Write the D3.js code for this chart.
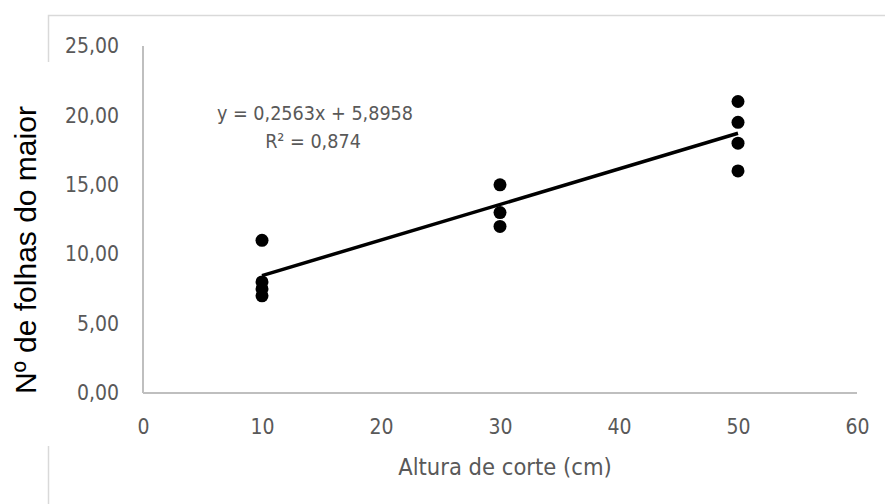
<!DOCTYPE html>
<html>
<head>
<meta charset="utf-8">
<script src="https://cdn.jsdelivr.net/npm/d3@7"></script>
<style>
  body { margin: 0; background: #fff; }
  svg { display: block; }
</style>
</head>
<body>
<svg id="chart" width="885" height="504"></svg>
<script>
// data
var alturas = [10, 10, 10, 10, 30, 30, 30, 50, 50, 50, 50];
var folhas  = [11, 8, 7.5, 7, 15, 13, 12, 21, 19.5, 18, 16];
var slope = 0.2563, intercept = 5.8958, r2 = "0,874";
var xTicks = [0, 10, 20, 30, 40, 50, 60];
var yTicks = [0, 5, 10, 15, 20, 25];

var tickFont = "'Liberation Sans Narrow', 'DejaVu Sans Condensed', sans-serif";
var svg = d3.select("#chart");

// chart frame (partly hidden behind the y title)
svg.append("rect")
    .attr("x", 48.5).attr("y", 15.5)
    .attr("width", 900).attr("height", 600)
    .attr("fill", "none")
    .attr("stroke", "#d9d9d9")
    .attr("stroke-width", 1.5);

var x = d3.scaleLinear().domain([0, 60]).range([143, 857]);
var y = d3.scaleLinear().domain([0, 25]).range([393, 46]);

// axes
var xAxis = svg.append("g")
    .attr("transform", "translate(0," + y(0) + ")")
    .call(d3.axisBottom(x).tickValues(xTicks).tickSize(0).tickPadding(26));
var yAxis = svg.append("g")
    .attr("transform", "translate(" + x(0) + ",0)")
    .call(d3.axisLeft(y).tickValues(yTicks).tickSize(0).tickPadding(24)
        .tickFormat(function(d){ return d3.format(".2f")(d).replace(".", ","); }));

[xAxis, yAxis].forEach(function(g){
    g.select(".domain").attr("stroke", "#bfbfbf").attr("stroke-width", 2);
    g.selectAll("text")
        .attr("font-family", tickFont)
        .attr("font-size", "21px")
        .attr("fill", "#595959");
});
xAxis.select(".domain").attr("d", "M" + x(0) + ",0H" + x(60));
yAxis.select(".domain").attr("d", "M0," + y(0) + "V" + y(25));

// trend line
svg.append("line")
    .attr("x1", x(10)).attr("y1", y(slope * 10 + intercept))
    .attr("x2", x(50)).attr("y2", y(slope * 50 + intercept))
    .attr("stroke", "#000")
    .attr("stroke-width", 3.5);

// points
svg.selectAll("circle.pt")
    .data(alturas.map(function(a, i){ return {a: a, f: folhas[i]}; }))
    .enter()
    .append("circle")
    .attr("class", "pt")
    .attr("cx", function(d){ return x(d.a); })
    .attr("cy", function(d){ return y(d.f); })
    .attr("r", 6.5)
    .attr("fill", "#000");

// equation label
var eq = svg.append("text")
    .attr("font-family", tickFont)
    .attr("font-size", "19.6px")
    .attr("fill", "#595959")
    .attr("text-anchor", "middle");
eq.append("tspan").attr("x", 315).attr("y", 120)
    .text("y = " + String(slope).replace(".", ",") + "x + " + String(intercept).replace(".", ","));
eq.append("tspan").attr("x", 313).attr("y", 148)
    .text("R² = " + r2);

// y title, with white background over the frame
svg.append("rect")
    .attr("x", 5).attr("y", 62)
    .attr("width", 50).attr("height", 384)
    .attr("fill", "#fff");
svg.append("text")
    .attr("transform", "translate(36,250) rotate(-90)")
    .attr("text-anchor", "middle")
    .attr("font-family", "'Liberation Sans', Arial, sans-serif")
    .attr("font-size", "30px")
    .attr("fill", "#000")
    .text("Nº de folhas do maior");

// x title
svg.append("text")
    .attr("x", 505).attr("y", 475)
    .attr("text-anchor", "middle")
    .attr("font-family", tickFont)
    .attr("font-size", "23.5px")
    .attr("fill", "#595959")
    .text("Altura de corte (cm)");
</script>
</body>
</html>
